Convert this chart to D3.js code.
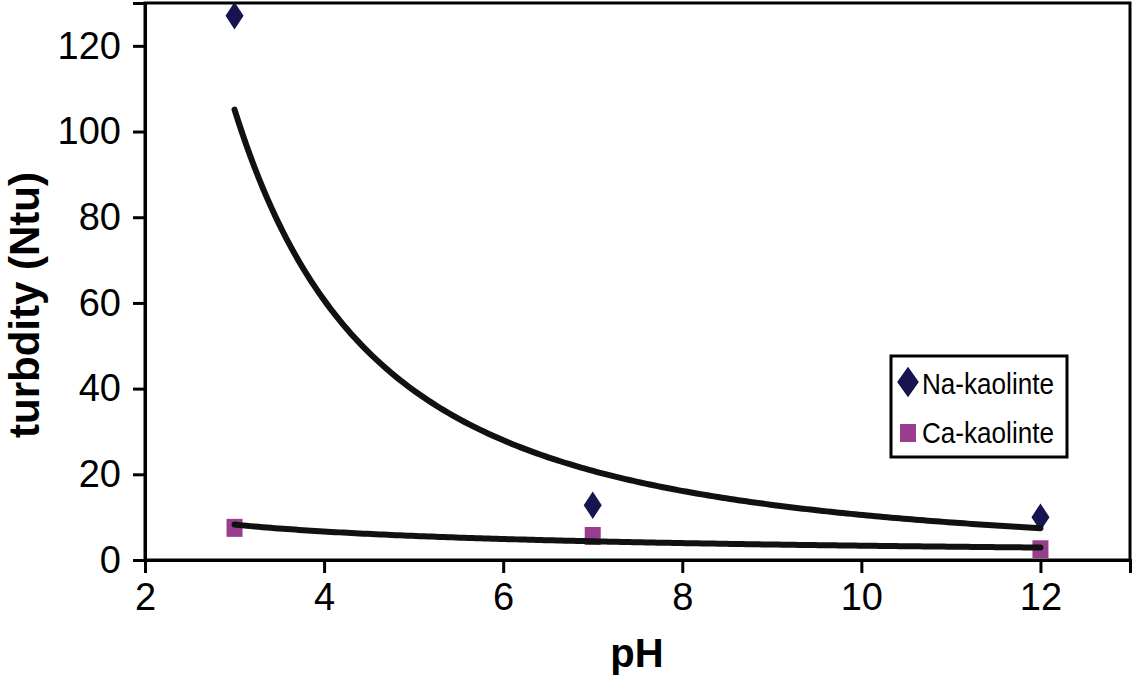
<!DOCTYPE html>
<html lang="en">
    <head>
        <meta charset="utf-8" />
        <title>Turbidity vs pH</title>
        <style>
            body { margin: 0; background: #fff; }
            svg text { font-family: "Liberation Sans", Arial, sans-serif; fill: #000; }
        </style>
        <script type="text/javascript" src="https://cdn.jsdelivr.net/npm/d3@7/dist/d3.min.js"></script>
    </head>
    <body>
        <script type="text/javascript">
            // values
            var ph = [3, 7, 12];
            var naTurbidity = [127, 12.8, 10];
            var caTurbidity = [7.5, 5.6, 2.5];
            var seriesNames = ['Na-kaolinte', 'Ca-kaolinte'];
            var xTicks = [2, 4, 6, 8, 10, 12];
            var yTicks = [0, 20, 40, 60, 80, 100, 120];

            var width = 1134,
                height = 679,
                plotLeft = 145, plotRight = 1130, plotTop = 3, plotBottom = 560;

            var x = d3.scaleLinear().domain([2, 13]).range([plotLeft, plotRight]);
            var y = d3.scaleLinear().domain([0, 130]).range([plotBottom, plotTop]);

            // power trendline y = a * x^b, least squares on logs (as the spreadsheet does)
            function powerFit(xs, ys) {
                var lx = xs.map(Math.log), ly = ys.map(Math.log);
                var mx = d3.mean(lx), my = d3.mean(ly);
                var sxy = d3.sum(lx, function(v, i) { return (v - mx) * (ly[i] - my); });
                var sxx = d3.sum(lx, function(v) { return (v - mx) * (v - mx); });
                var b = sxy / sxx;
                var a = Math.exp(my - b * mx);
                return function(v) { return a * Math.pow(v, b); };
            }

            var svg = d3.select('body')
                        .append('svg')
                        .attr('width', width)
                        .attr('height', height);

            // plot frame
            svg.append('rect')
                .attr('x', plotLeft).attr('y', plotTop)
                .attr('width', plotRight - plotLeft).attr('height', plotBottom - plotTop)
                .attr('fill', 'none').attr('stroke', '#000').attr('stroke-width', 3);

            var xAxis = svg.append('g')
                .attr('transform', 'translate(0,' + plotBottom + ')')
                .call(d3.axisBottom(x).tickValues(xTicks).tickSize(13).tickPadding(10));

            var yAxis = svg.append('g')
                .attr('transform', 'translate(' + plotLeft + ',0)')
                .call(d3.axisLeft(y).tickValues(yTicks).tickSize(12).tickPadding(12));

            [xAxis, yAxis].forEach(function(ax) {
                ax.select('.domain').attr('stroke-width', 3);
                ax.selectAll('.tick line').attr('stroke-width', 3);
                ax.selectAll('.tick text')
                    .style('font-family', '"Liberation Sans", Arial, sans-serif')
                    .style('font-size', '38px');
            });

            svg.append('text')
                .attr('x', 637)
                .attr('y', 667)
                .attr('text-anchor', 'middle')
                .style('font-size', '40px')
                .style('font-weight', 'bold')
                .text('pH');

            svg.append('text')
                .attr('transform', 'translate(39,305) rotate(-90)')
                .attr('text-anchor', 'middle')
                .style('font-size', '42px')
                .style('font-weight', 'bold')
                .text('turbdity (Ntu)');

            var diamond = d3.symbol().type(d3.symbolDiamond).size(180);
            var navy = '#17144f', plum = '#993d8f';

            // markers
            svg.append('g').selectAll('path')
                .data(naTurbidity)
                .enter()
                .append('path')
                .attr('d', diamond)
                .attr('transform', function(d, i) {
                    return 'translate(' + x(ph[i]) + ',' + y(d) + ') scale(1.25,1.1)';
                })
                .attr('fill', navy);

            svg.append('g').selectAll('rect')
                .data(caTurbidity)
                .enter()
                .append('rect')
                .attr('x', function(d, i) { return x(ph[i]) - 8; })
                .attr('y', function(d) { return y(d) - 9; })
                .attr('width', 16)
                .attr('height', 18)
                .attr('fill', plum);

            // trendlines
            var line = d3.line()
                .x(function(d) { return x(d[0]); })
                .y(function(d) { return y(d[1]); });

            [naTurbidity, caTurbidity].forEach(function(vals) {
                var f = powerFit(ph, vals);
                var pts = d3.range(0, 201).map(function(k) {
                    var v = ph[0] + (ph[ph.length - 1] - ph[0]) * k / 200;
                    return [v, f(v)];
                });
                svg.append('path')
                    .datum(pts)
                    .attr('d', line)
                    .attr('fill', 'none')
                    .attr('stroke', '#111')
                    .attr('stroke-width', 6)
                    .attr('stroke-linecap', 'round');
            });

            // legend
            var legend = svg.append('g');
            legend.append('rect')
                .attr('x', 891).attr('y', 356)
                .attr('width', 176).attr('height', 101)
                .attr('fill', '#fff').attr('stroke', '#000').attr('stroke-width', 3);

            legend.append('path')
                .attr('d', d3.symbol().type(d3.symbolDiamond).size(240))
                .attr('transform', 'translate(908,382) scale(1.3,1.05)')
                .attr('fill', navy);
            legend.append('rect')
                .attr('x', 900).attr('y', 424)
                .attr('width', 16).attr('height', 18)
                .attr('fill', plum);

            legend.selectAll('text')
                .data(seriesNames)
                .enter()
                .append('text')
                .attr('x', 922)
                .attr('y', function(d, i) { return 394 + i * 49; })
                .attr('textLength', 132)
                .attr('lengthAdjust', 'spacingAndGlyphs')
                .style('font-size', '30px')
                .text(function(d) { return d; });
        </script>
    </body>
</html>
